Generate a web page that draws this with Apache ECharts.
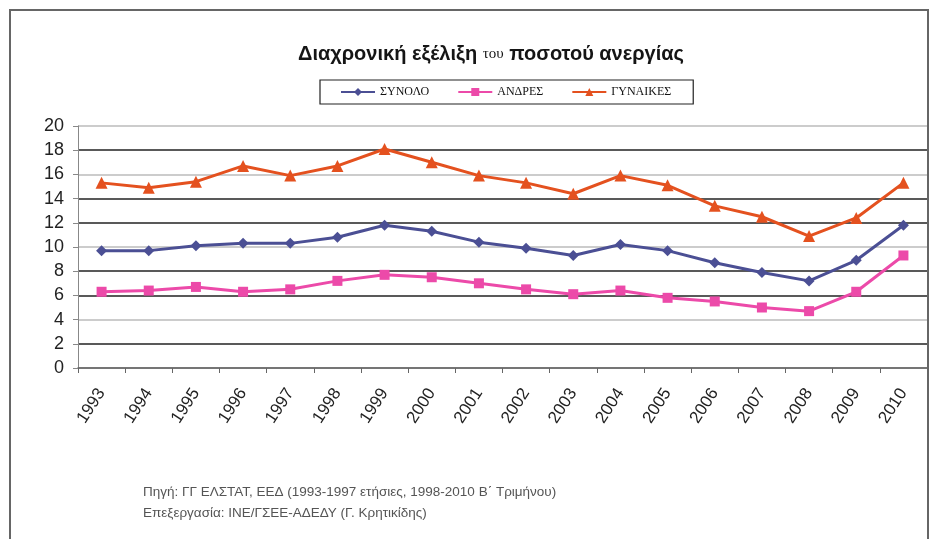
<!DOCTYPE html>
<html>
<head>
<meta charset="utf-8">
<script src="https://cdn.jsdelivr.net/npm/echarts@6/dist/echarts.min.js"></script>
<style>
  html, body { margin: 0; padding: 0; background: #fff; }
  #chart { width: 933px; height: 539px; }
</style>
</head>
<body>
<div id="chart"></div>
<script>
const years = ["1993", "1994", "1995", "1996", "1997", "1998", "1999", "2000", "2001",
  "2002", "2003", "2004", "2005", "2006", "2007", "2008", "2009", "2010"];
const synolo = [9.7, 9.7, 10.1, 10.3, 10.3, 10.8, 11.8, 11.3, 10.4, 9.9, 9.3, 10.2, 9.7, 8.7, 7.9, 7.2, 8.9, 11.8];
const andres = [6.3, 6.4, 6.7, 6.3, 6.5, 7.2, 7.7, 7.5, 7.0, 6.5, 6.1, 6.4, 5.8, 5.5, 5.0, 4.7, 6.3, 9.3];
const gynaikes = [15.3, 14.9, 15.4, 16.7, 15.9, 16.7, 18.1, 17.0, 15.9, 15.3, 14.4, 15.9, 15.1, 13.4, 12.5, 10.9, 12.4, 15.3];

const chart = echarts.init(document.getElementById("chart"));

// gridlines alternate dark / light like the scanned original
const gridColors = ["#888", "#222", "#bbb", "#222", "#222", "#bbb", "#222", "#222", "#bbb", "#222", "#bbb"];

chart.setOption({
  backgroundColor: "#fff",
  animation: false,
  title: {
    text: "Διαχρονική εξέλιξη {s|του} ποσοτού ανεργίας",
    left: 293,
    top: 39,
    textStyle: {
      fontFamily: "Liberation Sans",
      fontSize: 20,
      fontWeight: "bold",
      color: "#151515",
      rich: {
        s: { fontFamily: "Liberation Serif", fontSize: 15, fontWeight: "normal", color: "#151515" }
      }
    }
  },
  legend: {
    top: 80,
    left: 320,
    itemGap: 28,
    itemWidth: 34,
    itemHeight: 10,
    padding: [6, 22, 6, 20],
    borderColor: "#222",
    borderWidth: 1.2,
    textStyle: { fontFamily: "Liberation Serif", fontSize: 12, color: "#111" },
    data: ["ΣΥΝΟΛΟ", "ΑΝΔΡΕΣ", "ΓΥΝΑΙΚΕΣ"]
  },
  grid: { left: 78, right: 6, top: 126, bottom: 171, containLabel: false },
  xAxis: {
    type: "category",
    data: years,
    boundaryGap: true,
    axisLine: { lineStyle: { color: "#666", width: 1.5 } },
    axisTick: { show: true, length: 5, lineStyle: { color: "#666" } },
    axisLabel: {
      rotate: 57,
      margin: 22,
      fontFamily: "Liberation Sans",
      fontSize: 17,
      color: "#222"
    }
  },
  yAxis: {
    type: "value",
    min: 0,
    max: 20,
    interval: 2,
    axisLine: { show: true, lineStyle: { color: "#888" } },
    axisTick: { show: true, length: 5, lineStyle: { color: "#888" } },
    axisLabel: { fontFamily: "Liberation Sans", fontSize: 18, color: "#222", margin: 14 },
    splitLine: { lineStyle: { color: gridColors, width: 1.5 } }
  },
  series: [
    {
      name: "ΣΥΝΟΛΟ",
      type: "line",
      data: synolo,
      color: "#4b4f94",
      symbol: "diamond",
      symbolSize: 11,
      lineStyle: { width: 3 }
    },
    {
      name: "ΑΝΔΡΕΣ",
      type: "line",
      data: andres,
      color: "#ec4aa9",
      symbol: "rect",
      symbolSize: 10,
      lineStyle: { width: 3 }
    },
    {
      name: "ΓΥΝΑΙΚΕΣ",
      type: "line",
      data: gynaikes,
      color: "#e4511f",
      symbol: "triangle",
      symbolSize: 12,
      lineStyle: { width: 3 }
    }
  ],
  graphic: [
    {
      type: "rect",
      shape: { x: 10, y: 10, width: 918, height: 540 },
      style: { fill: "none", stroke: "#666", lineWidth: 2 },
      silent: true
    },
    {
      type: "text",
      left: 143,
      top: 485,
      style: {
        text: "Πηγή: ΓΓ ΕΛΣΤΑΤ, ΕΕΔ (1993-1997 ετήσιες, 1998-2010 Β΄ Τριμήνου)",
        fontFamily: "Liberation Sans",
        fontSize: 13.5,
        fill: "#555"
      }
    },
    {
      type: "text",
      left: 143,
      top: 506,
      style: {
        text: "Επεξεργασία: ΙΝΕ/ΓΣΕΕ-ΑΔΕΔΥ (Γ. Κρητικίδης)",
        fontFamily: "Liberation Sans",
        fontSize: 13.5,
        fill: "#555"
      }
    }
  ]
});
</script>
</body>
</html>
